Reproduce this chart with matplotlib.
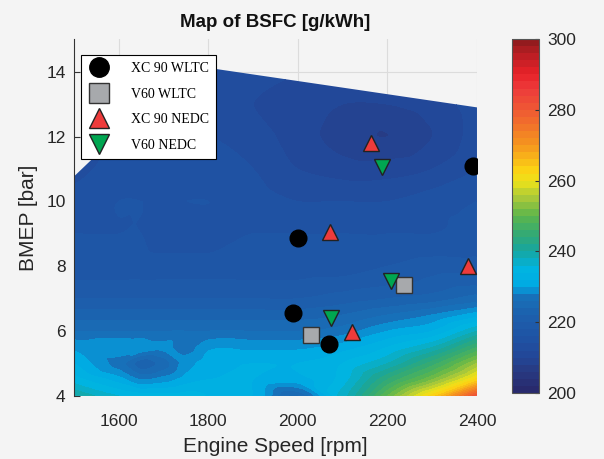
import numpy as np
import matplotlib
matplotlib.use("Agg")
import matplotlib.pyplot as plt
import matplotlib.tri as mtri
from matplotlib.colors import LinearSegmentedColormap
from matplotlib.patches import Polygon
from matplotlib.lines import Line2D

# ---------------- data ----------------
# BSFC map nodes [g/kWh]: rows = BMEP [bar], columns = engine speed [rpm]
speed_grid = [1500, 1600, 1650, 1700, 1750, 1800, 1900, 2000, 2100, 2200, 2300, 2400]
bmep_grid = [4, 4.5, 5, 5.5, 6, 6.5, 7, 8, 9, 10, 11, 12, 13, 14, 15]
bsfc_grid = [
    [240, 236, 235, 235, 235, 234, 232, 224, 237, 250, 263, 282],
    [235, 231, 228, 229, 231, 232, 232, 231, 235, 244, 252, 263],
    [232, 227, 223, 225, 229, 231, 232, 232, 234, 238, 245, 254],
    [229.5, 229.5, 229.5, 228.5, 227, 229.5, 229.5, 229.5, 231, 234, 238, 246],
    [226, 226, 226, 226, 226, 226, 226, 226, 227, 230, 232, 238],
    [223, 223, 223, 223, 223, 223, 223, 223, 224, 226, 228, 231],
    [220, 220, 220, 220, 220, 220, 220, 220, 221, 222, 223, 225],
    [217, 217, 217, 217, 217, 217, 217, 217, 217, 218, 219, 219],
    [216, 216, 216, 215, 215, 215, 216, 216, 216, 216, 216, 217],
    [215, 216, 216, 216, 216, 216, 215, 214, 214, 214, 215, 216],
    [213, 215, 215, 215, 215, 215, 214, 212, 211, 211, 212, 214],
    [212, 214, 214, 214, 214, 214, 213, 211, 209, 208, 210, 213],
    [212, 213, 213, 213, 213, 213, 212, 211, 210, 210, 211, 213],
    [212, 213, 213, 213, 213, 213, 213, 212, 212, 212, 212, 213],
    [212, 213, 213, 213, 213, 213, 213, 212, 212, 212, 212, 213],
]

# full-load limit of the map
wot_speed = [1500, 1760, 2400]
wot_bmep = [10.77, 14.2, 12.9]

# operating points
xc90_wltc_speed = [2000, 2390, 1990, 2070]
xc90_wltc_bmep = [8.88, 11.1, 6.57, 5.6]
v60_wltc_speed = [2030, 2236]
v60_wltc_bmep = [5.87, 7.43]
xc90_nedc_speed = [2164, 2072, 2381, 2120]
xc90_nedc_bmep = [11.8, 9.05, 8.02, 5.96]
v60_nedc_speed = [2188, 2208, 2073]
v60_nedc_bmep = [11.05, 7.55, 6.42]

cbar_ticks = [200, 220, 240, 260, 280, 300]
x_ticks = [1600, 1800, 2000, 2200, 2400]
y_ticks = [4, 6, 8, 10, 12, 14]

# ---------------- style ----------------
bg = "#f4f4f4"
plt.rcParams["font.family"] = ["Liberation Sans", "DejaVu Sans"]

cmap = LinearSegmentedColormap.from_list("bsfc", [
    (0.00, "#28286a"),
    (0.04, "#28347a"),
    (0.06, "#283a82"),
    (0.10, "#234696"),
    (0.15, "#1f52a3"),
    (0.18, "#1e58a8"),
    (0.22, "#1c61ae"),
    (0.26, "#196cb6"),
    (0.285, "#1476be"),
    (0.295, "#00a8e4"),
    (0.35, "#00b4e1"),
    (0.40, "#17a59d"),
    (0.45, "#34aa74"),
    (0.50, "#5cb54c"),
    (0.55, "#a8c83a"),
    (0.60, "#ece21a"),
    (0.63, "#fbd314"),
    (0.70, "#f5951e"),
    (0.80, "#ef5a33"),
    (0.86, "#ed3b3b"),
    (0.90, "#e82228"),
    (0.96, "#b81e24"),
    (1.00, "#8a1a1c"),
])

fig = plt.figure(figsize=(6.04, 4.59), dpi=100, facecolor=bg)
ax = fig.add_axes([0.1225, 0.1373, 0.6672, 0.7771], facecolor=bg)
cax = fig.add_axes([0.8477, 0.1438, 0.0447, 0.7712])

# smooth surface through the map nodes (cubic interpolation on a triangulated grid)
S, B = np.meshgrid(np.array(speed_grid, float), np.array(bmep_grid, float))
Z = np.array(bsfc_grid, float)
tri = mtri.Triangulation(((S - 1500) / 100).ravel(), B.ravel())
interp = mtri.CubicTriInterpolator(tri, Z.ravel(), kind="geom")
uf = np.linspace(0, 9, 451)
vf = np.linspace(4, 15, 451)
UF, VF = np.meshgrid(uf, vf)
ZF = np.clip(np.ma.filled(interp(UF, VF), np.nan), 200.5, 299.5)
SF = UF * 100 + 1500

levels = np.arange(200, 301, 2)
cs = ax.contourf(SF, VF, ZF, levels=levels, cmap=cmap, vmin=200, vmax=300, zorder=1)
boundary = Polygon(
    [(1500, 4)] + list(zip(wot_speed, wot_bmep)) + [(2400, 4)],
    closed=True, transform=ax.transData, facecolor="none", edgecolor="none")
cs.set_clip_path(boundary)

# operating points
ms = 12
ax.plot(xc90_wltc_speed, xc90_wltc_bmep, "o", ms=ms, mfc="black", mec="black", zorder=5)
ax.plot(v60_wltc_speed, v60_wltc_bmep, "s", ms=ms, mfc="#a7a9ac", mec="#333333", mew=1.0, zorder=5)
ax.plot(xc90_nedc_speed, xc90_nedc_bmep, "^", ms=ms, mfc="#ee3b3b", mec="#222222", mew=1.0, zorder=5)
ax.plot(v60_nedc_speed, v60_nedc_bmep, "v", ms=ms, mfc="#00a651", mec="#222222", mew=1.0, zorder=5)

ax.set_xlim(1500, 2400)
ax.set_ylim(4, 15)
ax.set_xticks(x_ticks)
ax.set_yticks(y_ticks)
ax.grid(True, color="#dcdcdc", lw=0.8)
ax.set_axisbelow(True)
for side in ("top", "right", "bottom"):
    ax.spines[side].set_visible(False)
ax.spines["left"].set_color("#333333")
ax.spines["left"].set_linewidth(0.8)
ax.tick_params(axis="y", direction="in", length=4, width=0.8, color="#333333",
               labelsize=12.5, labelcolor="#262626", pad=6)
ax.tick_params(axis="x", length=0, labelsize=12.5, labelcolor="#262626", pad=13)
ax.set_xlabel("Engine Speed [rpm]", fontsize=15, color="#262626", labelpad=6)
ax.set_ylabel("BMEP [bar]", fontsize=15, color="#262626", labelpad=6)
ax.set_title("Map of BSFC [g/kWh]", fontsize=13.5, fontweight="bold", color="#111111", pad=9)

# legend
handles = [
    Line2D([], [], ls="none", marker="o", ms=14, mfc="black", mec="black"),
    Line2D([], [], ls="none", marker="s", ms=14, mfc="#a7a9ac", mec="#333333"),
    Line2D([], [], ls="none", marker="^", ms=14, mfc="#ee3b3b", mec="#222222"),
    Line2D([], [], ls="none", marker="v", ms=14, mfc="#00a651", mec="#222222"),
]
labels = ["XC 90 WLTC", "V60 WLTC", "XC 90 NEDC", "V60 NEDC"]
leg = ax.legend(handles, labels, loc="upper left", bbox_to_anchor=(0.017, 0.955),
                prop={"family": ["Liberation Serif"], "size": 10},
                frameon=True, fancybox=False, framealpha=1, edgecolor="black",
                borderpad=0.5, labelspacing=0.9, handlelength=1.6, handletextpad=1.5,
                borderaxespad=0)
leg.get_frame().set_linewidth(0.8)
leg.set_zorder(10)

# colour bar
cb = fig.colorbar(cs, cax=cax, ticks=cbar_ticks)
cb.outline.set_edgecolor("#555555")
cb.outline.set_linewidth(0.8)
cax.tick_params(direction="in", length=3, width=0.8, color="#333333",
                labelsize=12.5, labelcolor="#262626", pad=6)

fig.savefig("out.png", dpi=100, facecolor=bg)
